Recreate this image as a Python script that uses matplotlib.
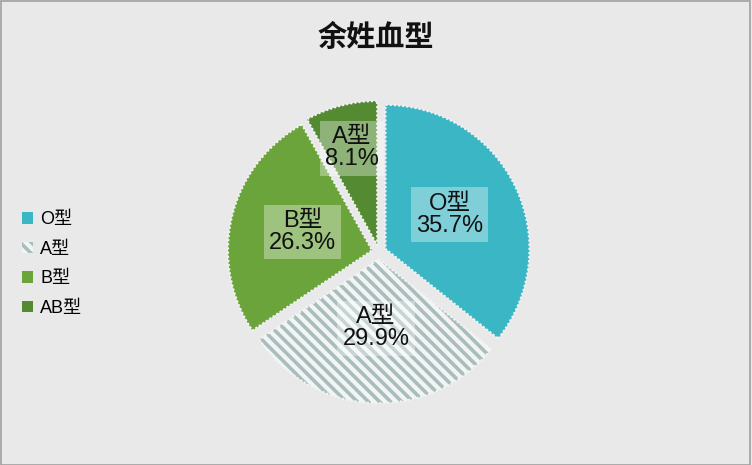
import matplotlib
matplotlib.use('Agg')
import matplotlib.pyplot as plt
from matplotlib.patches import Rectangle

plt.rcParams['font.family'] = ['Liberation Sans', 'Noto Sans CJK SC']
plt.rcParams['hatch.linewidth'] = 2.6

# 数据
categories = ['O型', 'A型', 'B型', 'AB型']
values = [35.7, 29.9, 26.3, 8.1]
slice_labels = ['O型', 'A型', 'B型', 'A型']  # 图中AB型的数据标签显示为"A型"
colors = ['#3bb6c4', '#f3f5f5', '#6aa43a', '#548a32']
hatches = [None, '\\\\\\', None, None]
hatch_color = '#a9bdbd'

# 数据标签位置（数据坐标，半径为1）
label_pos = [(0.49, 0.26), (-0.02, -0.53), (-0.53, 0.14), (-0.19, 0.72)]

fig = plt.figure(figsize=(7.52, 4.65), dpi=100)
fig.patch.set_facecolor('#e9e9e9')
fig.patches.append(Rectangle((0.001, 0.001), 0.997, 0.997, transform=fig.transFigure,
                             fill=False, edgecolor='#a0a0a0', linewidth=1.2))

# 饼图区域: 中心约 (380, 251) 像素, 半径约 146 像素
R = 146
half = 180
ax = fig.add_axes([(379 - half) / 752, (465 - 252 - half) / 465, 2 * half / 752, 2 * half / 465])
ax.set_xlim(-half / R, half / R)
ax.set_ylim(-half / R, half / R)
ax.set_aspect('equal')
ax.axis('off')

wedges, _ = ax.pie(values, colors=colors, startangle=90, counterclock=False,
                   explode=[0.05] * 4, radius=1,
                   wedgeprops=dict(edgecolor='#f4f4f4', linewidth=1.5, linestyle=(0, (1, 1))))
for w, h in zip(wedges, hatches):
    if h:
        w.set_hatch(h)
        w._hatch_color = matplotlib.colors.to_rgba(hatch_color)

for lab, v, (x, y) in zip(slice_labels, values, label_pos):
    ax.text(x, y, f'{lab}\n{v}%', ha='center', va='center', fontsize=17,
            color='#111111', linespacing=1.0,
            bbox=dict(boxstyle='square,pad=0.22', facecolor='white', alpha=0.35, edgecolor='none'))

fig.text(0.5, 0.92, '余姓血型', ha='center', va='center', fontsize=21, fontweight='bold',
         color='#111111', family='Noto Sans CJK SC')

# 图例
handles = []
for c, h in zip(colors, hatches):
    p = Rectangle((0, 0), 1, 1, facecolor=c, edgecolor='none')
    if h:
        p.set_hatch(h)
        p._hatch_color = matplotlib.colors.to_rgba(hatch_color)
    handles.append(p)
leg = fig.legend(handles, categories, loc='center left', bbox_to_anchor=(0.008, 0.432),
                 frameon=False, fontsize=13, handlelength=0.6, handleheight=0.6,
                 handletextpad=0.4, labelspacing=0.7)

plt.savefig('out.png', dpi=100, facecolor=fig.get_facecolor())
